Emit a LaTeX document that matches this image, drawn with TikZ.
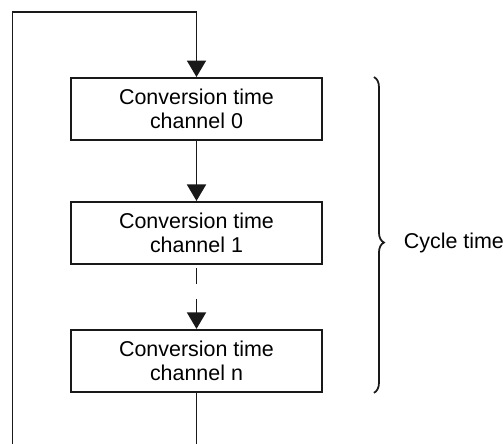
\documentclass[tikz,border=0pt]{standalone}
\usepackage{fontspec}
\setmainfont{Liberation Sans}
\usepackage{tikz}
\usetikzlibrary{arrows.meta, positioning, decorations.pathreplacing}

\begin{document}
\begin{tikzpicture}[
        node distance=1.2cm and 0.8cm,
        block/.style={rectangle, draw=black!90, line width=1.1pt, minimum width=5.02cm, minimum height=1.24cm, align=center, inner sep=0pt, font=\fontsize{12.2}{13.5}\selectfont},
        arr/.style={-{Triangle[length=0.33cm, width=0.38cm]}, line width=1pt, draw=black!90}
    ]
        \useasboundingbox (0,0) rectangle (10.06,-8.88);
        \node[block] (conv0) at (3.93,-2.18) {Conversion time\\channel 0};
        \node[block, below=of conv0] (conv1) {Conversion time\\channel 1};
        \node[block, below=1.28cm of conv1] (convn) {Conversion time\\channel n};
        \coordinate (loopbot) at (0.25,-8.88);
        \coordinate (looptop) at (0.25,-0.24);

        \draw[arr] (loopbot) -- (looptop) -| (conv0.north);
        \draw[arr] (conv0) -- (conv1);
        \draw[arr, dash pattern=on 0pt off 0.06cm on 0.32cm off 0.3cm on 2cm] (conv1) -- (convn);
        \draw[line width=1pt, draw=black!90] (convn.south) -- (convn.south |- loopbot);

        % cycle time brace
        \draw[line width=1pt, draw=black!90, decorate, decoration={brace, amplitude=0.2cm, aspect=0.524}]
            ([xshift=1.02cm]conv0.north east) -- node[pos=0.524, right=0.58cm, inner sep=0pt, font=\fontsize{12.2}{13.5}\selectfont] (cycle) {Cycle time} ([xshift=1.02cm]convn.south east);
    \end{tikzpicture}
\end{document}
